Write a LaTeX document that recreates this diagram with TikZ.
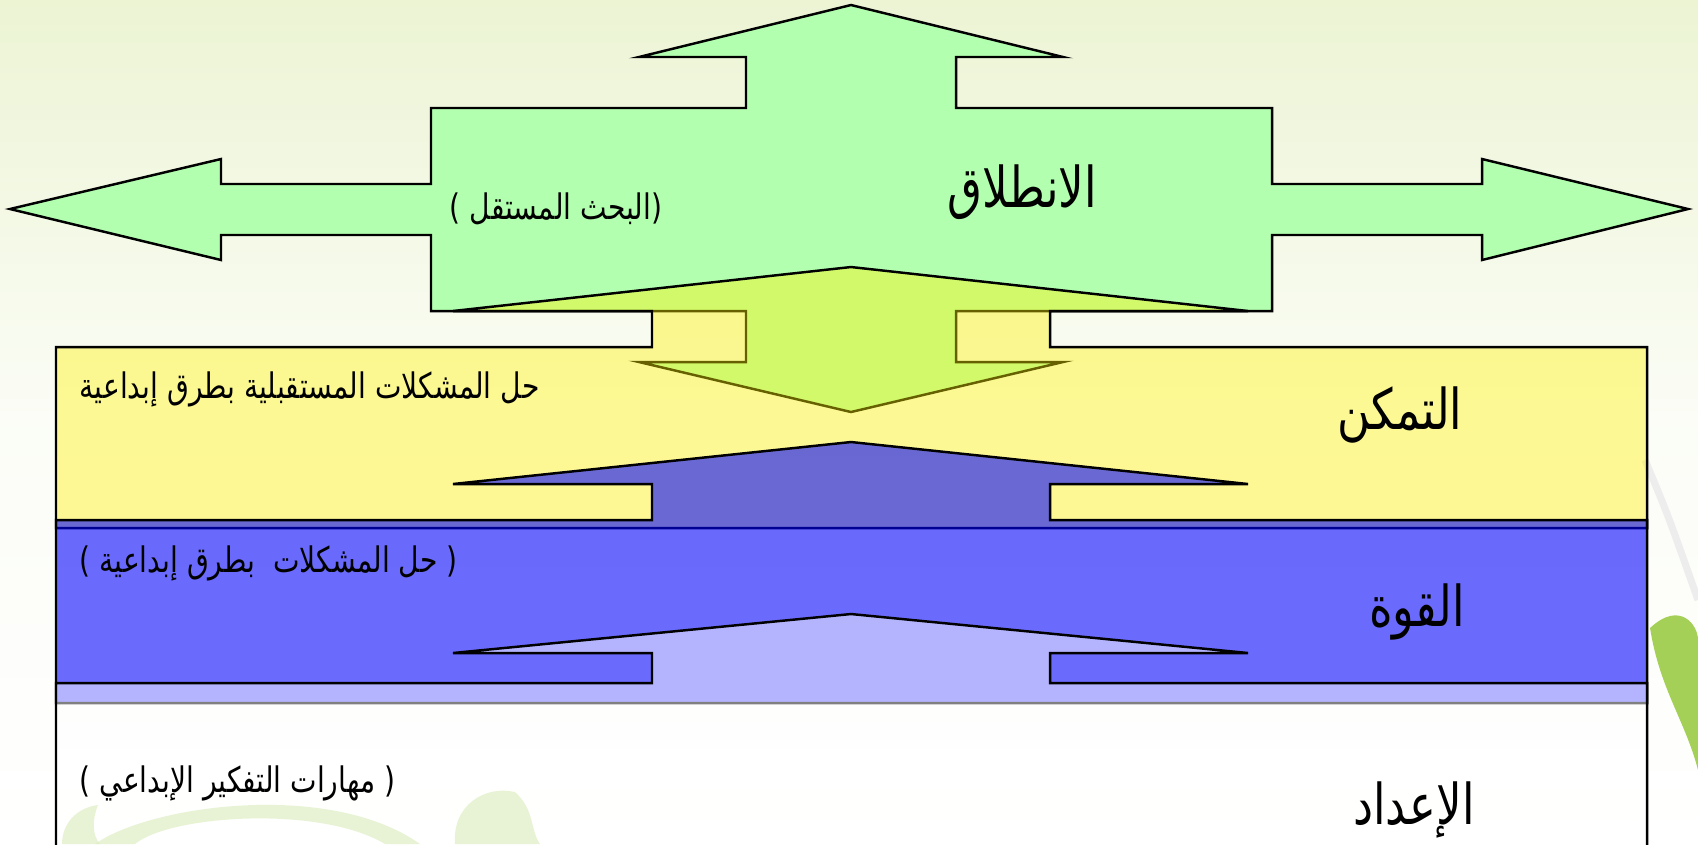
\documentclass[tikz,border=0pt]{standalone}
\usepackage{fontspec}
\usetikzlibrary{positioning}
\TeXXeTstate=1
\newfontfamily\arabicfont[Script=Arabic, FakeStretch=0.8]{DejaVu Sans}
\definecolor{bggreen}{RGB}{236,244,212}
\definecolor{crossgreen}{RGB}{179,255,176}
\definecolor{leafgreen}{RGB}{150,200,60}

\begin{document}
\begin{tikzpicture}[x=0.01cm, y=-0.01cm,
        bigtxt/.style={font=\arabicfont\fontsize{16}{19}\selectfont, inner sep=0pt},
        smalltxt/.style={font=\arabicfont\fontsize{10}{12}\selectfont, inner sep=0pt},
        shapeline/.style={draw=black, line width=0.7pt, line join=miter},
        leaf/.style={fill=leafgreen!65, opacity=0.65}]
        %% Background
        \useasboundingbox (0,0) rectangle (1698,844);
        \clip (0,0) rectangle (1698,844);
        \shade[top color=bggreen, bottom color=white, middle color=white!80!bggreen] (0,0) rectangle (1698,844);
        \draw[black!7, line width=2pt] (1645,460) .. controls (1668,515) .. (1698,600);
        \fill[leafgreen, opacity=0.85] (1650,628) .. controls (1680,600) and (1698,625) .. (1698,640) -- (1698,770) .. controls (1685,720) and (1660,690) .. (1650,628);
        \fill[leaf] (62,844) .. controls (62,825) and (75,808) .. (98,805) .. controls (92,820) and (92,835) .. (100,844) -- cycle;
        \fill[leaf] (95,844) .. controls (150,805) and (330,780) .. (420,844) -- (385,844) .. controls (320,805) and (170,815) .. (135,844) -- cycle;
        \fill[leaf] (455,844) .. controls (452,805) and (485,785) .. (515,792) .. controls (535,810) and (530,830) .. (540,844) -- cycle;

        %% Green cross (four arrows)
        \filldraw[shapeline, fill=crossgreen] (851,5) -- (1063,57) -- (956,57) -- (956,108) -- (1272,108) -- (1272,184) -- (1482,184) -- (1482,159) -- (1688,209) -- (1482,260) -- (1482,235) -- (1272,235) -- (1272,311) -- (956,311) -- (956,362) -- (1063,362) -- (851,412) -- (639,362) -- (746,362) -- (746,311) -- (431,311) -- (431,235) -- (221,235) -- (221,260) -- (10,209) -- (221,159) -- (221,184) -- (431,184) -- (431,108) -- (746,108) -- (746,57) -- (639,57) -- cycle;

        %% Yellow level
        \filldraw[shapeline, fill=yellow, fill opacity=0.4] (851,267) -- (1248,311) -- (1050,311) -- (1050,347) -- (1647,347) -- (1647,528) -- (56,528) -- (56,347) -- (652,347) -- (652,311) -- (453,311) -- cycle;

        %% Blue level
        \filldraw[shapeline, fill=blue, fill opacity=0.58] (851,442) -- (1248,484) -- (1050,484) -- (1050,520) -- (1647,520) -- (1647,703) -- (56,703) -- (56,520) -- (652,520) -- (652,484) -- (453,484) -- cycle;

        %% White level
        \filldraw[shapeline, fill=white, fill opacity=0.5] (851,614) -- (1248,653) -- (1050,653) -- (1050,683) -- (1647,683) -- (1647,900) -- (56,900) -- (56,683) -- (652,683) -- (652,653) -- (453,653) -- cycle;

        %% Labels
        \node[bigtxt] (intilaq) at (1022,192) {\beginR الانطلاق\endR};
        \node[smalltxt] (bahth) at (556,209) {\beginR(البحث المستقل )\endR};
        \node[bigtxt] (tamakkun) at (1400,415) {\beginR التمكن\endR};
        \node[smalltxt, anchor=west] (mustaqbal) at (79,389) {\beginR حل المشكلات المستقبلية بطرق إبداعية\endR};
        \node[bigtxt, below right=1.97cm and 0.17cm of tamakkun.center, anchor=center] (quwwa) {\beginR القوة\endR};
        \node[smalltxt, below=1.74cm of mustaqbal.west, anchor=west] (mushkilat) {\beginR( حل المشكلات~~بطرق إبداعية )\endR};
        \node[bigtxt] (iedad) at (1414,810) {\beginR الإعداد\endR};
        \node[smalltxt, below=2.2cm of mushkilat.west, anchor=west] (maharat) {\beginR( مهارات التفكير الإبداعي )\endR};
\end{tikzpicture}
\end{document}
